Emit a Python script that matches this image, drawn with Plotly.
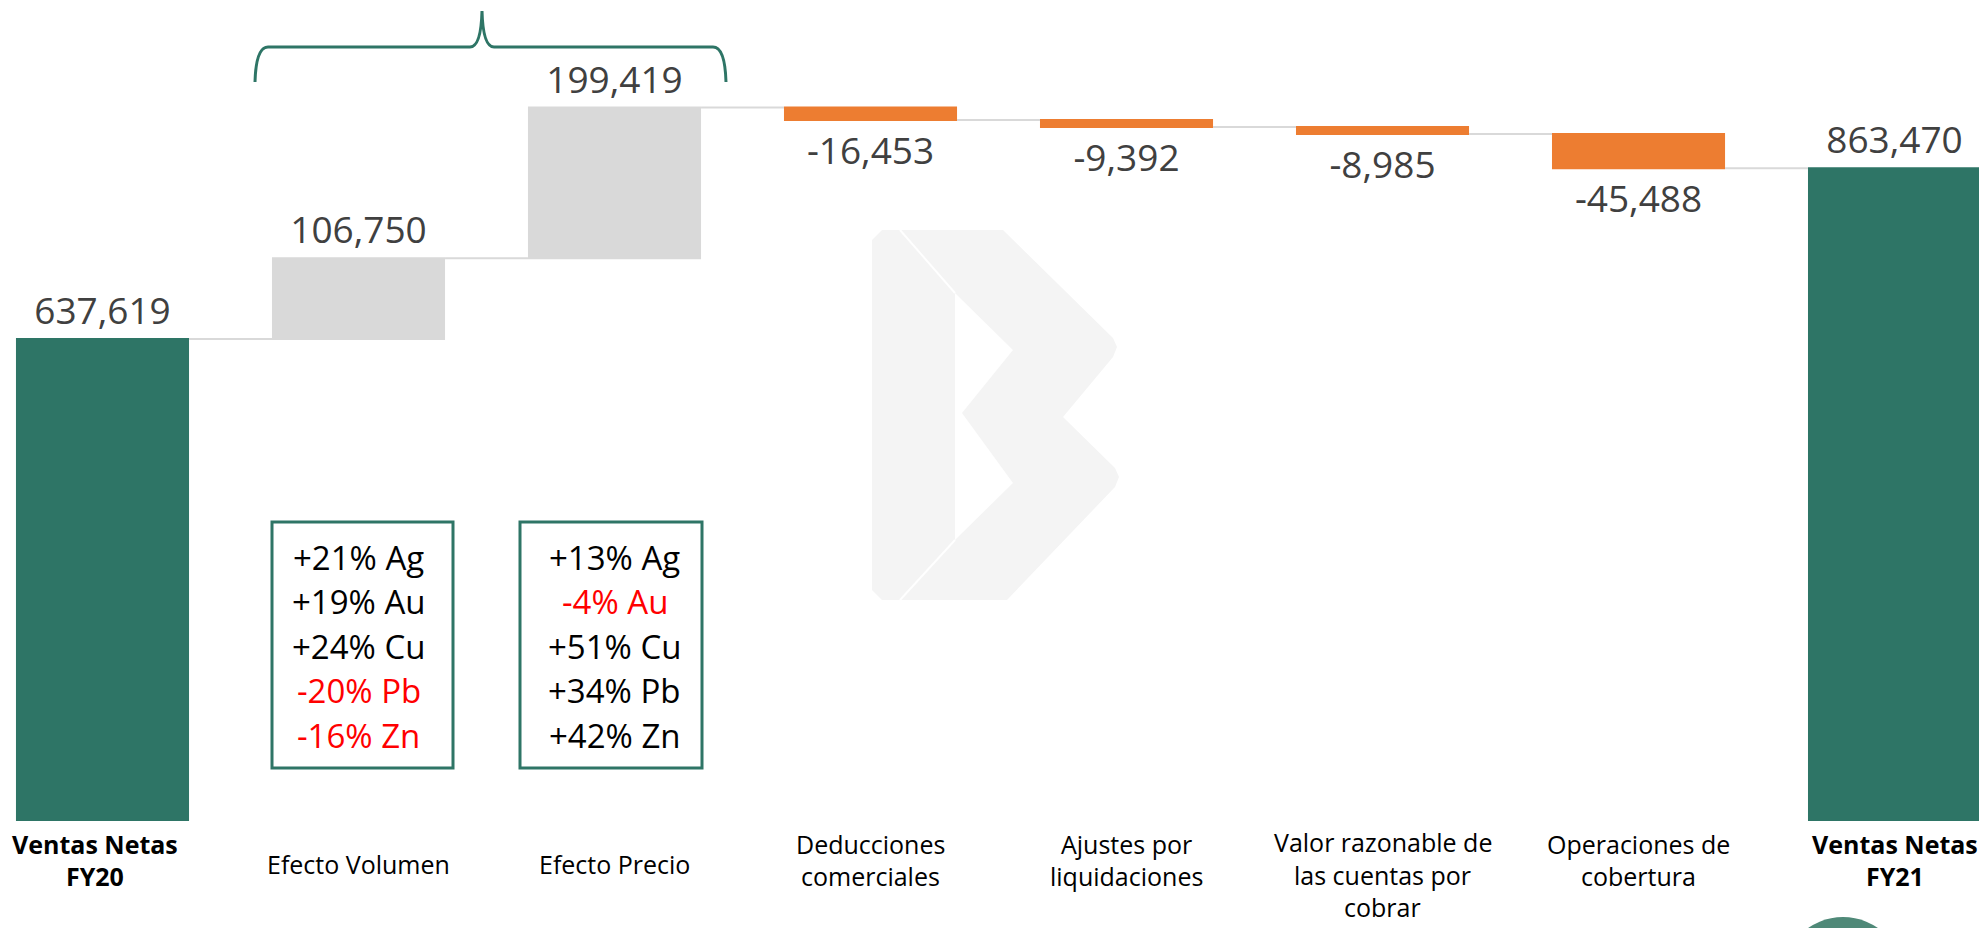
import plotly.graph_objects as go

# ---------------- data ----------------
categories = ["Ventas Netas FY20", "Efecto Volumen", "Efecto Precio", "Deducciones comerciales",
              "Ajustes por liquidaciones", "Valor razonable de las cuentas por cobrar",
              "Operaciones de cobertura", "Ventas Netas FY21"]
tick_labels = ["<b>Ventas Netas<br>FY20</b>", "Efecto Volumen", "Efecto Precio",
               "Deducciones<br>comerciales", "Ajustes por<br>liquidaciones",
               "Valor razonable de<br>las cuentas por<br>cobrar", "Operaciones de<br>cobertura",
               "<b>Ventas Netas<br>FY21</b>"]
values = [637619, 106750, 199419, -16453, -9392, -8985, -45488, 0]
measures = ["absolute", "relative", "relative", "relative", "relative", "relative", "relative", "total"]
volume_changes = ["+21% Ag", "+19% Au", "+24% Cu", "-20% Pb", "-16% Zn"]
price_changes = ["+13% Ag", "-4% Au", "+51% Cu", "+34% Pb", "+42% Zn"]

# ---------------- styles ----------------
TEAL = "#2E7566"
GRAY = "#D9D9D9"
ORANGE = "#ED7D31"
LABEL = "#404040"
FONT = "Open Sans"
W, H = 1979, 928
PLOT_H = 821

total = sum(v for v, m in zip(values, measures) if m != "total")
texts = [f"{(total if m == 'total' else v):,}" for v, m in zip(values, measures)]

def px(p):
    return p / W

def py(p):
    return 1 - p / PLOT_H

fig = go.Figure(go.Waterfall(
    x=categories,
    y=values,
    measure=measures,
    text=texts,
    textposition="outside",
    textfont=dict(family=FONT, size=37, color=LABEL),
    constraintext="none",
    cliponaxis=False,
    width=[0.676] * len(categories),
    increasing=dict(marker=dict(color=GRAY)),
    decreasing=dict(marker=dict(color=ORANGE)),
    totals=dict(marker=dict(color=TEAL)),
    connector=dict(mode="between", line=dict(color=GRAY, width=2)),
    hoverinfo="skip",
))

shapes = []
# watermark logo (light)
logo = [(872, 240), (872, 590), (882, 600), (1007, 600), (1115, 487), (1119, 477), (1115, 468),
        (1063, 417), (1113, 357), (1117, 347), (1113, 338), (1003, 230), (882, 230)]
path = "M " + " L ".join(f"{px(a)},{py(b)}" for a, b in logo) + " Z"
shapes.append(dict(type="path", xref="paper", yref="paper", path=path, fillcolor="#F4F4F4",
                   line=dict(width=0), layer="below"))
notch = [(955, 293), (1013, 350), (962, 413), (1013, 483), (955, 540)]
path = "M " + " L ".join(f"{px(a)},{py(b)}" for a, b in notch) + " Z"
shapes.append(dict(type="path", xref="paper", yref="paper", path=path, fillcolor="white",
                   line=dict(width=0), layer="below"))
for seg in [((900, 230), (955, 293)), ((955, 540), (900, 600))]:
    shapes.append(dict(type="line", xref="paper", yref="paper", x0=px(seg[0][0]), y0=py(seg[0][1]),
                       x1=px(seg[1][0]), y1=py(seg[1][1]), line=dict(color="white", width=2), layer="below"))

# curly brace above the volume/price bars
brace = (f"M {px(255)},{py(82)} Q {px(256)},{py(47)} {px(268)},{py(47)} L {px(470)},{py(47)} "
         f"Q {px(481)},{py(47)} {px(482)},{py(11)} Q {px(483)},{py(47)} {px(494)},{py(47)} "
         f"L {px(713)},{py(47)} Q {px(725)},{py(47)} {px(726)},{py(82)}")
shapes.append(dict(type="path", xref="paper", yref="paper", path=brace,
                   line=dict(color=TEAL, width=3)))

# boxes with metal changes
for x0, x1 in [(272, 453), (520, 702)]:
    shapes.append(dict(type="rect", xref="paper", yref="paper", x0=px(x0), x1=px(x1),
                       y0=py(768), y1=py(522), line=dict(color=TEAL, width=3),
                       fillcolor="rgba(0,0,0,0)"))

# partial circle bottom right
shapes.append(dict(type="circle", xref="paper", yref="paper", x0=px(1782), x1=px(1904),
                   y0=py(1039), y1=py(917), fillcolor="#4F8978", line=dict(width=0)))

annotations = []
LINE = 32.5
for i, (cat, lab) in enumerate(zip(categories, tick_labels)):
    bold = lab.startswith("<b>")
    lines = lab.replace("<b>", "").replace("</b>", "").split("<br>")
    n = len(lines)
    first = 864 - 18 * min(n - 1, 1) - 2 * (n - 1)
    for k, s in enumerate(lines):
        annotations.append(dict(x=cat, xref="x", y=py(first + LINE * k), yref="paper",
                                text=f"<b>{s}</b>" if bold else s, showarrow=False,
                                yanchor="middle", xanchor="center", borderpad=0,
                                xshift=-8 if i == 0 else 0,
                                font=dict(family=FONT, size=25, color="black")))

for cat, lines in [(categories[1], volume_changes), (categories[2], price_changes)]:
    for k, s in enumerate(lines):
        annotations.append(dict(x=cat, xref="x", y=py(557 + 44.5 * k), yref="paper", text=s,
                                showarrow=False, yanchor="middle", xanchor="center",
                                font=dict(family=FONT, size=33,
                                          color="#FF0000" if s.startswith("-") else "black")))

fig.update_layout(
    width=W, height=H,
    margin=dict(l=0, r=0, t=0, b=H - PLOT_H),
    paper_bgcolor="white", plot_bgcolor="rgba(0,0,0,0)",
    showlegend=False,
    xaxis=dict(range=[-0.4004, 7.330], showticklabels=False, showgrid=False, zeroline=False,
               showline=False, fixedrange=True),
    yaxis=dict(range=[0, PLOT_H * 1322.9], visible=False, showgrid=False, zeroline=False),
    shapes=shapes,
    annotations=annotations,
)

fig.write_html("out.html", config={"displayModeBar": False},
               post_script="document.body.style.margin='0';document.body.style.overflow='hidden';")
